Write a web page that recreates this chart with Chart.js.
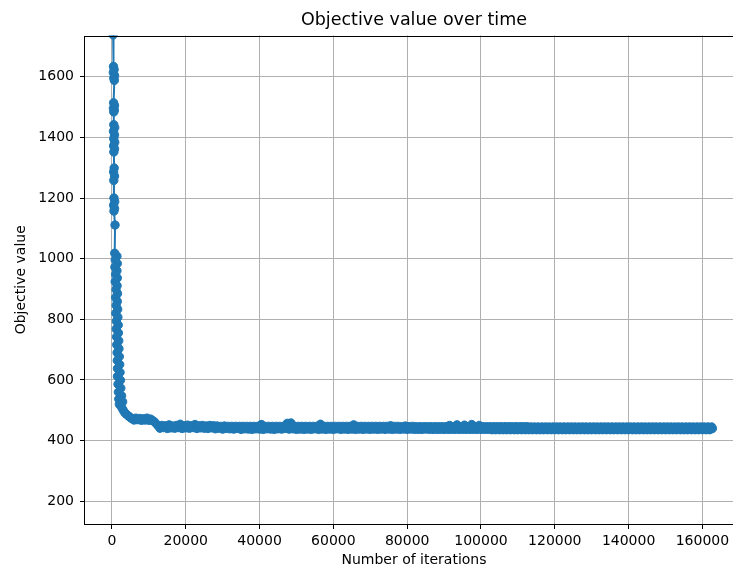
<!DOCTYPE html>
<html>
<head>
<meta charset="utf-8">
<script src="https://cdn.jsdelivr.net/npm/chart.js@4"></script>
<style>
    html, body { margin: 0; padding: 0; background: #fff; overflow: hidden; }
    #wrap { position: relative; width: 733px; height: 571px; overflow: hidden; }
    #wrap canvas { position: absolute; left: 0; top: 0; display: block; }
</style>
</head>
<body>
<div id="wrap"><canvas id="objectiveChart" width="760" height="571"></canvas></div>
<script>
// iterations / objective values
const iterations = [
    // first samples, drop from the top
    330, 420, 600, 380, 700, 500, 650, 450, 700, 400, 650, 500,
    500, 750, 420, 700, 480, 760, 450, 700, 520, 600, 450, 700, 500,
    550, 750, 450, 700, 550, 840,
    // steep part
    750, 1350, 900, 1450, 800, 1350, 1000, 1450, 880, 1400, 1100, 1500,
    1000, 1450, 1150, 1550, 1050, 1600, 1200, 1700, 1150, 1750, 1250, 1850,
    1300, 1900, 1400, 2000, 1450, 2100, 1500, 2200, 1500, 2300, 1650, 2400,
    1750, 2600, 1850, 2900, 2000, 2500, 2950,
    // knee
    3300, 3700, 4200, 4700, 5100,
    5500, 6000, 6500, 7000, 7500, 8000, 8500, 9000, 9500, 10000,
    10500, 11000, 11500, 12200, 12700,
    // plateau
    13000, 13500, 14000, 14500, 15000, 15500, 16000, 16500, 17000, 17500,
    18000, 18500, 19000, 19500, 20000, 20500, 21000, 21500, 22000, 22500,
    23000, 23500, 24000, 24500, 25000, 25500, 26000, 26500, 27000, 27500,
    28000, 28500, 29000, 29500, 30000, 30500, 31000, 31500, 32000, 32500,
    33000, 33500, 34000, 34500, 35000, 35500, 36000, 36500, 37000, 37500,
    38000, 38500, 39000, 39500, 40000, 40500, 41000, 41500, 42000, 42500,
    43000, 43500, 44000, 44500, 45000, 45500, 46000, 46500, 47000, 47500,
    48000, 48500, 49000, 49500, 50000, 50500, 51000, 51500, 52000, 52500,
    53000, 53500, 54000, 54500, 55000, 55500, 56000, 56500, 57000, 57500,
    58000, 58500, 59000, 59500, 60000, 60500, 61000, 61500, 62000, 62500,
    63000, 63500, 64000, 64500, 65000, 65500, 66000, 66500, 67000, 67500,
    68000, 68500, 69000, 69500, 70000, 70500, 71000, 71500, 72000, 72500,
    73000, 73500, 74000, 74500, 75000, 75500, 76000, 76500, 77000, 77500,
    78000, 78500, 79000, 79500, 80000, 80500, 81000, 81500, 82000, 82500,
    83000, 83500, 84000, 84500, 85000, 85500, 86000, 86500, 87000, 87500,
    88000, 88500, 89000, 89500, 90000, 90500, 91000, 91500, 92000, 92500,
    93000, 93500, 94000, 94500, 95000, 95500, 96000, 96500, 97000, 97500,
    98000, 98500, 99000, 99500, 100000, 100500, 101000, 101500, 102000, 102500,
    103000, 103500, 104000, 104500, 105000, 105500, 106000, 106500, 107000, 107500,
    108000, 108500, 109000, 109500, 110000, 110500, 111000, 111500, 112000, 112500,
    113000, 113500, 114000, 114500, 115000, 115500, 116000, 116500, 117000, 117500,
    118000, 118500, 119000, 119500, 120000, 120500, 121000, 121500, 122000, 122500,
    123000, 123500, 124000, 124500, 125000, 125500, 126000, 126500, 127000, 127500,
    128000, 128500, 129000, 129500, 130000, 130500, 131000, 131500, 132000, 132500,
    133000, 133500, 134000, 134500, 135000, 135500, 136000, 136500, 137000, 137500,
    138000, 138500, 139000, 139500, 140000, 140500, 141000, 141500, 142000, 142500,
    143000, 143500, 144000, 144500, 145000, 145500, 146000, 146500, 147000, 147500,
    148000, 148500, 149000, 149500, 150000, 150500, 151000, 151500, 152000, 152500,
    153000, 153500, 154000, 154500, 155000, 155500, 156000, 156500, 157000, 157500,
    158000, 158500, 159000, 159500, 160000, 160500, 161000, 161500, 162000, 162500,
    162700
];

const objectiveValues = [
    1738, 1634, 1624, 1614, 1604, 1596, 1588, 1514, 1505, 1496, 1490, 1484,
    1442, 1432, 1420, 1408, 1396, 1384, 1372, 1362, 1352, 1299, 1286, 1272, 1258,
    1200, 1188, 1176, 1165, 1157, 1111,
    1018, 1008, 996, 984, 972, 960, 948, 936, 924, 911, 898, 885,
    872, 859, 846, 833, 820, 807, 794, 781, 768, 755, 742, 729,
    716, 703, 690, 677, 664, 651, 638, 625, 612, 599, 586, 573,
    560, 548, 537, 528, 520, 512, 503,
    495, 489, 484, 479, 475,
    472, 468, 474, 469, 473, 467, 472, 468, 474, 467,
    471, 466, 462, 453, 447,
    441, 450, 443, 449, 440, 452, 442, 448, 441, 450,
    443, 454, 440, 449, 442, 451, 441, 449, 443, 453,
    440, 449, 442, 450, 441, 448, 440, 450, 442, 449,
    439, 448, 441, 447, 438, 448, 440, 447, 439, 447,
    438, 447, 440, 447, 437, 447, 439, 447, 438, 447,
    437, 447, 439, 447, 438, 453, 437, 447, 439, 447,
    438, 447, 437, 447, 439, 447, 438, 447, 440, 457,
    438, 458, 439, 447, 437, 447, 438, 447, 437, 447,
    438, 447, 437, 447, 439, 447, 437, 454, 438, 447,
    437, 447, 438, 447, 437, 447, 439, 447, 437, 447,
    438, 447, 437, 447, 438, 452, 437, 447, 438, 447,
    437, 447, 438, 447, 437, 447, 438, 447, 437, 447,
    438, 447, 437, 447, 438, 449, 437, 447, 438, 447,
    437, 446, 438, 448, 437, 446, 438, 447, 437, 446,
    437, 446, 437, 446, 438, 446, 437, 446, 437, 446,
    437, 446, 437, 446, 437, 446, 437, 450, 437, 446,
    437, 452, 437, 446, 437, 451, 437, 446, 437, 453,
    437, 446, 437, 450, 437, 446, 437, 446, 437, 446,
    436, 446, 436, 446, 436, 446, 436, 446, 436, 446,
    436, 446, 436, 446, 436, 446, 436, 446, 436, 446,
    436, 445, 436, 445, 436, 445, 436, 445, 436, 445,
    436, 445, 436, 445, 436, 445, 436, 445, 436, 445,
    436, 445, 436, 445, 436, 445, 436, 445, 436, 445,
    436, 445, 436, 445, 436, 445, 436, 445, 436, 445,
    436, 445, 436, 445, 436, 445, 436, 445, 436, 445,
    436, 445, 436, 445, 436, 445, 436, 445, 436, 445,
    436, 445, 436, 445, 436, 445, 436, 445, 436, 445,
    436, 445, 436, 445, 436, 445, 436, 445, 436, 445,
    436, 445, 436, 445, 436, 445, 436, 445, 436, 445,
    436, 445, 436, 445, 436, 445, 436, 445, 436, 445,
    440
];

const xTickValues = [0, 20000, 40000, 60000, 80000, 100000, 120000, 140000, 160000];
const yTickValues = [200, 400, 600, 800, 1000, 1200, 1400, 1600];

const chartTitle = 'Objective value over time';
const xLabel = 'Number of iterations';
const yLabel = 'Objective value';

const FONT = 'DejaVu Sans';
Chart.defaults.font.family = FONT;
Chart.defaults.color = '#000';

// matplotlib-like frame and title centred over the axes
const framePlugin = {
    id: 'frame',
    afterDraw(chart) {
        const ctx = chart.ctx;
        const a = chart.chartArea;
        ctx.save();
        ctx.strokeStyle = '#000';
        ctx.lineWidth = 1;
        ctx.strokeRect(Math.round(a.left) - 0.5, Math.round(a.top) + 0.5,
            Math.round(a.right - a.left), Math.round(a.bottom - a.top) - 1);
        ctx.fillStyle = '#000';
        ctx.font = '17.5px "' + FONT + '"';
        ctx.textAlign = 'center';
        ctx.textBaseline = 'middle';
        ctx.fillText(chartTitle, (a.left + a.right) / 2, 20);
        ctx.restore();
    }
};

function buildPoints() {
    let points = [];
    iterations.forEach(function(it, i) {
        points.push({x: it, y: objectiveValues[i]});
    });
    return points;
}

const config = {
    type: 'line',
    data: {
        datasets: [{
            data: buildPoints(),
            borderColor: '#1f77b4',
            backgroundColor: '#1f77b4',
            borderWidth: 2,
            pointRadius: 4.2,
            pointBorderWidth: 1,
            pointBackgroundColor: '#1f77b4',
            pointBorderColor: '#1f77b4',
            tension: 0,
            fill: false,
            clip: 0
        }]
    },
    options: {
        responsive: false,
        animation: false,
        // the axes run past the right edge of the 733px picture
        layout: { padding: { top: 35.5, right: 17, left: 0, bottom: 0 } },
        plugins: {
            legend: { display: false },
            tooltip: { enabled: false },
            title: { display: false }
        },
        scales: {
            x: {
                type: 'linear',
                min: -7300,
                max: 171000,
                afterBuildTicks: (scale) => {
                    scale.ticks = xTickValues.map(v => ({value: v}));
                },
                afterFit: (scale) => { scale.height = 47; },
                ticks: {
                    autoSkip: false,
                    maxRotation: 0,
                    padding: 4,
                    font: { size: 14 },
                    callback: (v) => String(v)
                },
                grid: {
                    color: '#b0b0b0',
                    lineWidth: 1,
                    tickColor: '#000',
                    tickLength: 5
                },
                border: { display: false },
                title: {
                    display: true,
                    text: xLabel,
                    font: { size: 14 },
                    padding: { top: 0, bottom: 2.5 }
                }
            },
            y: {
                type: 'linear',
                min: 125,
                max: 1736,
                afterBuildTicks: (scale) => {
                    scale.ticks = yTickValues.map(v => ({value: v}));
                },
                afterFit: (scale) => { scale.width = 85; },
                ticks: {
                    padding: 6,
                    font: { size: 14 },
                    callback: (v) => String(v)
                },
                grid: {
                    color: '#b0b0b0',
                    lineWidth: 1,
                    tickColor: '#000',
                    tickLength: 5
                },
                border: { display: false },
                title: {
                    display: true,
                    text: yLabel,
                    font: { size: 14 },
                    padding: { top: 13, bottom: 0 }
                }
            }
        }
    },
    plugins: [framePlugin]
};

const objectiveChart = new Chart(
    document.getElementById('objectiveChart'),
    config,
);
</script>
</body>
</html>
